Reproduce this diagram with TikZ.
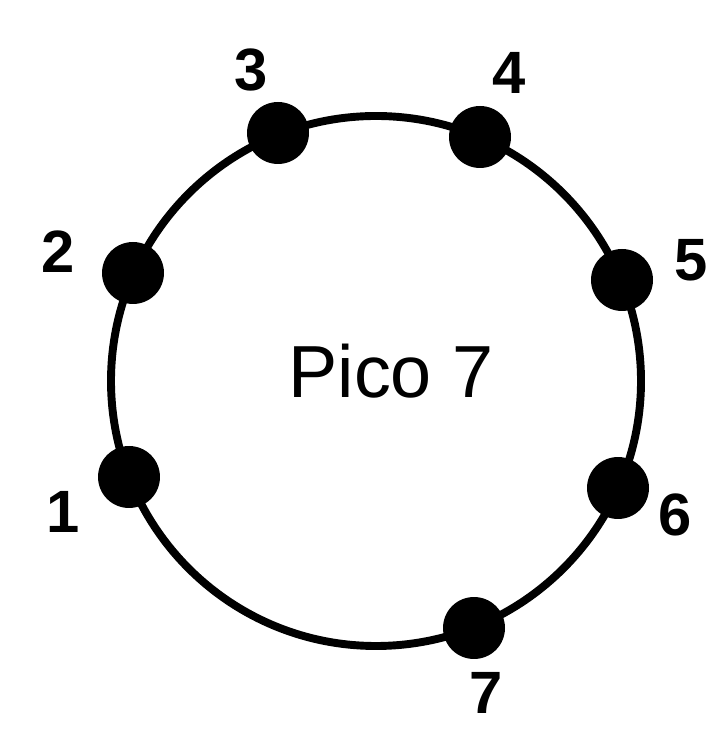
\documentclass[tikz,border=0pt]{standalone}
\usepackage{fontspec}
\setmainfont{Liberation Sans}
\usepackage{tikz}
\definecolor{pInk}{HTML}{000000}

\begin{document}
\begin{tikzpicture}[
  x=0.02cm, y=0.02cm,
  rim/.style={draw=pInk, line width=4.5pt},
  pin/.style={circle, fill=pInk, draw=none, minimum size=1.24cm, inner sep=0pt},
  num/.style={font=\fontsize{34}{40}\selectfont\bfseries, text=pInk, inner sep=0pt},
  ttl/.style={font=\fontsize{42}{50}\selectfont, text=pInk, inner sep=0pt},
]
\useasboundingbox (0,0) rectangle (722,746);

% ---- ring
\draw[rim] (376,365) circle (265);
\node[ttl] at (391,375) (name) {Pico 7};

% ---- pins
\node[pin] at (129,269) (p1) {};
\node[pin] at (133,473) (p2) {};
\node[pin] at (278,613) (p3) {};
\node[pin] at (480,609) (p4) {};
\node[pin] at (622,466) (p5) {};
\node[pin] at (618,258) (p6) {};
\node[pin] at (474,118) (p7) {};

% ---- pin numbers
\node[num] at (63,234)  (n1) {1};
\node[num] at (58,494)  (n2) {2};
\node[num] at (251,676) (n3) {3};
\node[num] at (509,673) (n4) {4};
\node[num] at (691,486) (n5) {5};
\node[num] at (675,231) (n6) {6};
\node[num] at (486,53)  (n7) {7};

\end{tikzpicture}
\end{document}
